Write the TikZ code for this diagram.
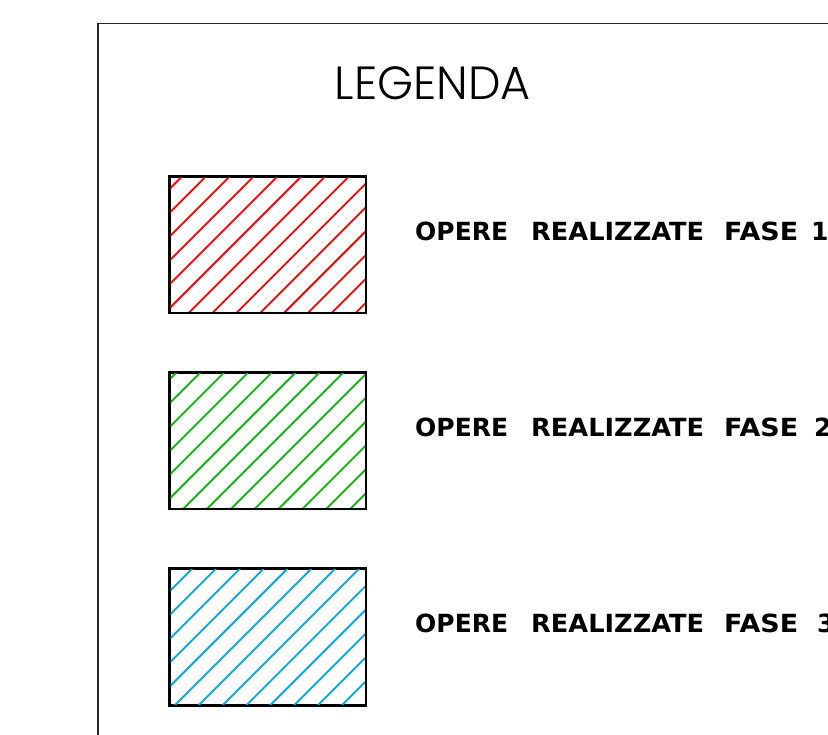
\documentclass[tikz,border=0pt]{standalone}
\usepackage{fontspec}
\setmainfont{DejaVu Sans}
\newfontfamily\titlefont{Poppins Light}
\definecolor{hred}{RGB}{255,0,0}
\definecolor{hgreen}{RGB}{10,180,10}
\definecolor{hblue}{RGB}{0,165,225}
\newcommand{\wordbox}[2]{\resizebox{#1pt}{\height}{#2}}
\begin{document}
\begin{tikzpicture}[x=1pt,y=-1pt,
  legbox/.style={draw=black, line width=2.5pt, minimum width=196.7pt, minimum height=136.8pt, inner sep=0pt, outer sep=0pt, anchor=north west},
  hatchline/.style={line width=1.8pt},
  lbl/.style={anchor=base west, inner sep=0pt, font=\fontsize{25}{25}\selectfont\bfseries}]
\useasboundingbox (0,0) rectangle (828,735);
\clip (0,0) rectangle (828,735);
% frame
\coordinate (fbl) at (98,740);
\coordinate (ftl) at (98,23.5);
\coordinate (ftr) at (835,23.5);
\draw[line width=1.1pt, black!85] (fbl) -- (ftl) -- (ftr);
% title
\node[anchor=base west, inner sep=0pt, font=\titlefont\fontsize{46.5}{47}\selectfont] (title) at (334.5,99.5) {\wordbox{196}{LEGENDA}};
% boxes
\node[legbox] (b1) at (169.3,176.3) {};
\node[legbox] (b2) at (169.3,372.3) {};
\node[legbox] (b3) at (169.3,568.5) {};
% hatches
\begin{scope}
  \clip ([shift={(1.2pt,1.2pt)}]b1.south west) rectangle ([shift={(-1.2pt,-1.2pt)}]b1.north east);
  \foreach \k in {0,...,14} {
    \pgfmathsetmacro\c{358.5+23.85*\k}
    \draw[hred,hatchline] ({\c-400},400) -- ({\c-100},100);
  }
\end{scope}
\begin{scope}
  \clip ([shift={(1.2pt,1.2pt)}]b2.south west) rectangle ([shift={(-1.2pt,-1.2pt)}]b2.north east);
  \foreach \k in {0,...,14} {
    \pgfmathsetmacro\c{549+23.85*\k}
    \draw[hgreen,hatchline] ({\c-600},600) -- ({\c-300},300);
  }
\end{scope}
\begin{scope}
  \clip ([shift={(1.2pt,1.2pt)}]b3.south west) rectangle ([shift={(-1.2pt,-1.2pt)}]b3.north east);
  \foreach \k in {0,...,14} {
    \pgfmathsetmacro\c{737+23.85*\k}
    \draw[hblue,hatchline] ({\c-800},800) -- ({\c-500},500);
  }
\end{scope}
% labels row 1
\node[lbl] (a1) at (415,240.5) {\wordbox{93}{OPERE}};
\node[lbl] (a2) at (531,240.5) {\wordbox{173}{REALIZZATE}};
\node[lbl] (a3) at (724,240.5) {\wordbox{74}{FASE}};
\node[lbl] (a4) at (811,240.5) {1};
% labels row 2
\node[lbl] (c1) at (415,436.5) {\wordbox{93}{OPERE}};
\node[lbl] (c2) at (531,436.5) {\wordbox{173}{REALIZZATE}};
\node[lbl] (c3) at (724,436.5) {\wordbox{74}{FASE}};
\node[lbl] (c4) at (814,436.5) {2};
% labels row 3
\node[lbl] (d1) at (415,632.5) {\wordbox{93}{OPERE}};
\node[lbl] (d2) at (531,632.5) {\wordbox{173}{REALIZZATE}};
\node[lbl] (d3) at (724,632.5) {\wordbox{74}{FASE}};
\node[lbl] (d4) at (817,632.5) {3};
\end{tikzpicture}
\end{document}
